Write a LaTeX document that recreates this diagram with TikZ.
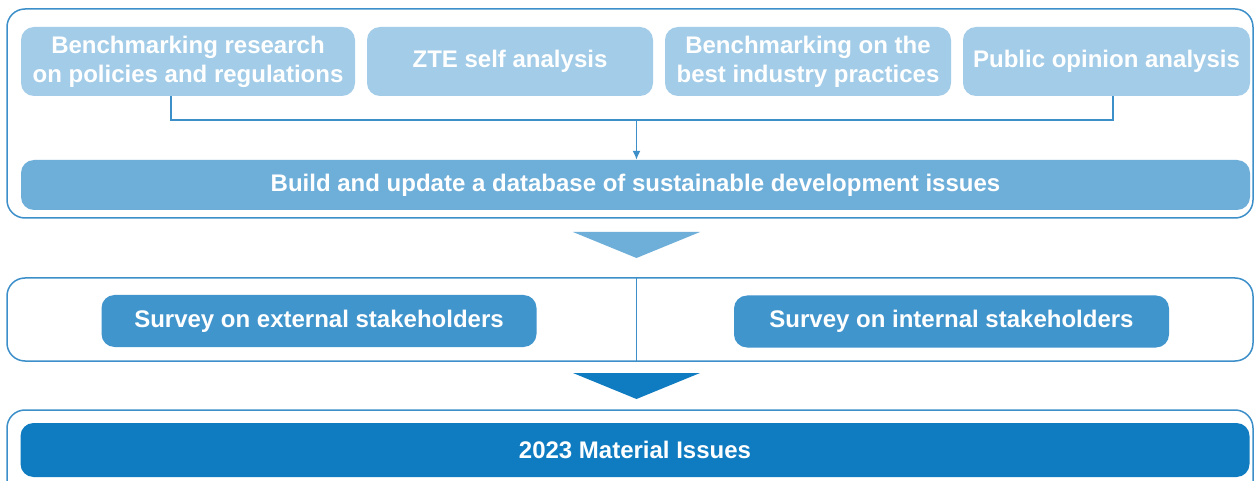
\documentclass[tikz,border=0pt]{standalone}
\usepackage{fontspec}
\setmainfont{Liberation Sans}
\usetikzlibrary{arrows.meta}
\definecolor{outl}{HTML}{3D8FCA}
\definecolor{lightb}{HTML}{A3CCE8}
\definecolor{midb}{HTML}{6EAFDA}
\definecolor{survb}{HTML}{4195CD}
\definecolor{darkb}{HTML}{0F7BC0}
\tikzset{
  frame/.style={draw=outl, line width=1.5pt, rounded corners=18pt},
  box/.style={rounded corners=13pt, text=white, font=\bfseries\fontsize{24}{29}\selectfont, align=center, inner sep=0pt},
  topbox/.style={box, fill=lightb, minimum width=#1, minimum height=69pt},
  widebox/.style={box, minimum width=1229pt},
  survbox/.style={box, fill=survb, minimum width=435pt, minimum height=52pt},
  conn/.style={draw=outl, line width=1.5pt}
}
\begin{document}
\begin{tikzpicture}[x=1pt,y=-1pt]
\clip (0,0) rectangle (1254,481);
\fill[white] (0,0) rectangle (1254,481);
% frames
\draw[frame] (7,9) rectangle (1253,218);
\draw[frame] (7,278) rectangle (1253,361);
\draw[frame] (7,410) rectangle (1253,520);
% top row
\node[topbox=334pt] (b1) at (188,61.5) {Benchmarking research\\on policies and regulations};
\node[topbox=286pt] (b2) at (510,61.5) {ZTE self analysis};
\node[topbox=286pt] (b3) at (808,61.5) {Benchmarking on the\\best industry practices};
\node[topbox=287pt] (b4) at (1106.5,61.5) {Public opinion analysis};
\node[widebox, fill=midb, minimum height=50pt] (build) at (635.5,185) {Build and update a database of sustainable development issues};
% connectors
\coordinate (j) at (636.5,120);
\draw[conn] ([xshift=-17pt]b1.south) |- (j) -| ([xshift=6.5pt]b4.south);
\draw[conn, -{Latex[length=9pt,width=8pt]}] (j) -- (j |- build.north);
% triangle 1
\fill[midb] (573,232) -- (700,232) -- (636.5,258) -- cycle;
% middle row
\coordinate (mt) at (636.5,278);
\coordinate (mb) at (636.5,361);
\draw[conn] (mt) -- (mb);
\node[survbox] (ext) at (319,321) {Survey on external stakeholders};
\node[survbox] (int) at (951.5,321.5) {Survey on internal stakeholders};
% triangle 2
\fill[darkb] (573,373) -- (700,373) -- (636.5,399) -- cycle;
% bottom
\node[widebox, fill=darkb, minimum height=54pt] (mat) at (635,450) {2023 Material Issues};
\end{tikzpicture}
\end{document}
